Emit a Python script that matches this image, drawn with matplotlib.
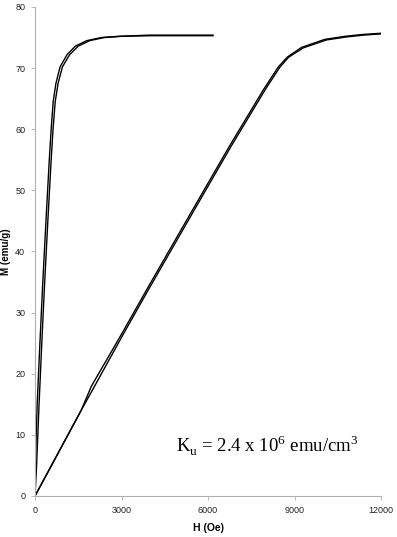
import matplotlib
matplotlib.use("Agg")
import matplotlib.pyplot as plt

# ---------------------------------------------------------------------------
# Data (H in Oe, M in emu/g)
# ---------------------------------------------------------------------------

# easy axis loop: increasing and decreasing branches
easy_up_H = [0, 50, 140, 235, 335, 445, 560, 625, 700, 800, 950, 1200, 1500, 1900, 2400, 3000, 4000, 5000, 6170]
easy_up_M = [0, 4.5, 15, 25, 35, 45, 55, 60, 64.5, 67.5, 70.2, 72.2, 73.6, 74.5, 75.0, 75.2, 75.3, 75.3, 75.3]
easy_dn_H = [0, 0, 75, 170, 270, 380, 495, 560, 630, 725, 870, 1110, 1400, 1800, 2300, 2900, 4000, 5000, 6170]
easy_dn_M = [0, 4.0, 15, 25, 35, 45, 55, 60, 64.5, 67.5, 70.2, 72.2, 73.6, 74.5, 75.0, 75.2, 75.4, 75.4, 75.4]

# hard axis loop
hard_up_H = [0, 1600, 2000, 3100, 4000, 5500, 6800, 8000, 8500, 8800, 9300, 10100, 10800, 11400, 12000]
hard_up_M = [0, 14.0, 17.4, 26.8, 34.3, 46.6, 57.2, 66.6, 70.2, 71.8, 73.3, 74.6, 75.1, 75.4, 75.6]
hard_dn_H = [0, 1600, 1960, 3040, 3940, 5440, 6740, 7940, 8440, 8750, 9250, 10050, 10750, 11350, 12000]
hard_dn_M = [0, 14.0, 18.0, 26.8, 34.3, 46.6, 57.2, 66.6, 70.2, 71.8, 73.4, 74.7, 75.2, 75.5, 75.7]

x_ticks = [0, 3000, 6000, 9000, 12000]
y_ticks = [0, 10, 20, 30, 40, 50, 60, 70, 80]


def main():
    fig = plt.figure(figsize=(3.97, 5.37), dpi=100)
    ax = fig.add_axes([0.0882, 0.0764, 0.8715, 0.9106])

    for H, M in [(easy_up_H, easy_up_M), (easy_dn_H, easy_dn_M),
                 (hard_up_H, hard_up_M), (hard_dn_H, hard_dn_M)]:
        ax.plot(H, M, "-", color="black", linewidth=1.0)

    ax.set_xlim(0, 12000)
    ax.set_ylim(0, 80)
    ax.set_xticks(x_ticks)
    ax.set_yticks(y_ticks)

    for side in ("top", "right"):
        ax.spines[side].set_visible(False)
    for side in ("left", "bottom"):
        ax.spines[side].set_color("#b0b0b0")
        ax.spines[side].set_linewidth(0.8)
    ax.tick_params(direction="out", length=3, width=0.6, color="#b0b0b0",
                   labelsize=6.5, labelcolor="#222222", pad=4)
    for lab in ax.get_xticklabels() + ax.get_yticklabels():
        lab.set_family(["Liberation Sans", "DejaVu Sans"])

    ax.set_xlabel("H (Oe)", fontsize=7.5, fontweight="bold",
                  family=["Liberation Sans", "DejaVu Sans"])
    ax.set_ylabel("M (emu/g)", fontsize=7, fontweight="bold",
                  family=["Liberation Sans", "DejaVu Sans"])
    ax.xaxis.set_label_coords(0.5, -0.055)
    ax.yaxis.set_label_coords(-0.07, 0.5)

    ax.text(4890, 7.0, r"K$_\mathregular{u}$ = 2.4 x 10$^\mathregular{6}$ emu/cm$^\mathregular{3}$",
            fontsize=13.5, family=["Liberation Serif", "DejaVu Serif"], va="baseline")

    fig.savefig("out.png", dpi=100)


if __name__ == "__main__":
    main()
